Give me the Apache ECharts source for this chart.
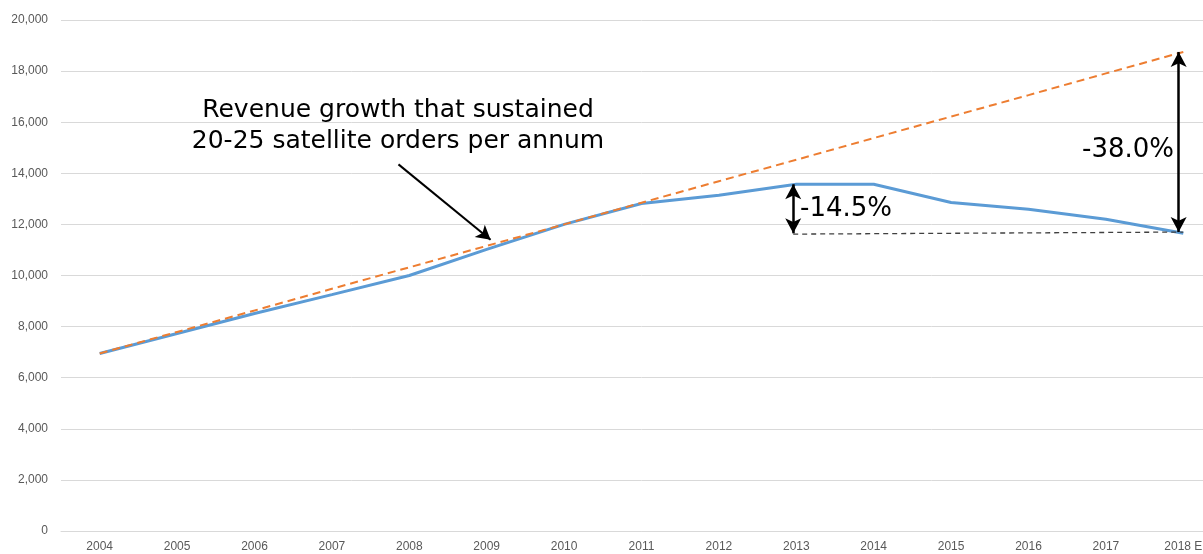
<!DOCTYPE html>
<html><head><meta charset="utf-8">
<script src="https://cdn.jsdelivr.net/npm/echarts@6/dist/echarts.min.js"></script>
<style>html,body{margin:0;padding:0;background:#fff;overflow:hidden;width:1203px;height:554px}#c{width:1222px;height:554px}</style>
</head><body><div id="c"></div>
<script>
const categories = ['2004','2005','2006','2007','2008','2009','2010','2011','2012','2013','2014','2015','2016','2017','2018 E'];
const actualRevenue = [6950,7730,8510,9250,10000,11020,12000,12820,13140,13570,13570,12860,12590,12200,11650];
const sustainedGrowth = [6950,7790,8630,9480,10320,11160,12000,12850,13690,14530,15380,16220,17060,17910,18750];
const yTicks = {min:0, max:20000, interval:2000};
// annotation positions in category-index units (0 = 2004)
const gapLine = [[8.96,11620],[14,11700]];
const arrow2013 = [[8.96,13570],[8.96,11650]];
const arrow2018 = [[13.94,18750],[13.94,11700]];
const pointerArrow = [[3.86,14350],[5.05,11400]];

const chart = echarts.init(document.getElementById('c'));
const arrowStyle = {color:'#000', width:2.5, type:'solid'};
chart.setOption({
  animation:false,
  grid:{left:61, right:0, top:20, bottom:23},
  xAxis:[{type:'category', data:categories, boundaryGap:true,
    axisLine:{show:true, lineStyle:{color:'#d9d9d9'}}, axisTick:{show:false},
    axisLabel:{color:'#595959', fontSize:12, fontFamily:'Liberation Sans', margin:10}},
    {type:'value', min:-0.5, max:categories.length-0.5, show:false, splitLine:{show:false}}],
  yAxis:{type:'value', min:yTicks.min, max:yTicks.max, interval:yTicks.interval,
    axisLine:{show:false}, axisTick:{show:false},
    splitLine:{lineStyle:{color:'#d9d9d9', width:1}},
    axisLabel:{color:'#595959', fontSize:12, fontFamily:'Liberation Sans', margin:13,
      formatter:v=>v.toLocaleString('en-US')}},
  series:[
    {type:'line', data:sustainedGrowth, symbol:'none', z:3,
     lineStyle:{color:'#ED7D31', width:2, type:[8,5]}},
    {type:'line', data:actualRevenue, symbol:'none', z:2,
     lineStyle:{color:'#5B9BD5', width:3}},
    {type:'line', xAxisIndex:1, data:[], symbol:'none',
     markLine:{silent:true, animation:false, symbol:['arrow','arrow'], symbolSize:[12,15],
       label:{show:false}, lineStyle:arrowStyle,
       data:[
         [{coord:gapLine[0], symbol:'none', lineStyle:{color:'#404040', width:1.3, type:[5,4]}},{coord:gapLine[1], symbol:'none'}],
         [{coord:arrow2013[0]},{coord:arrow2013[1]}],
         [{coord:arrow2018[0]},{coord:arrow2018[1]}],
         [{coord:pointerArrow[0], symbol:'none', lineStyle:{color:'#000', width:2, type:'solid'}},{coord:pointerArrow[1], symbol:'arrow', symbolSize:[12,14]}]
       ]}}
  ],
  graphic:[
    {type:'text', style:{text:'Revenue growth that sustained\n20-25 satellite orders per annum',
      x:398, y:126, fill:'#000', font:'25px "DejaVu Sans"', align:'center', verticalAlign:'middle', lineHeight:31}},
    {type:'text', style:{text:'-14.5%', x:800, y:209, fill:'#000', font:'26px "DejaVu Sans"', align:'left', verticalAlign:'middle'}},
    {type:'text', style:{text:'-38.0%', x:1082, y:150, fill:'#000', font:'26px "DejaVu Sans"', align:'left', verticalAlign:'middle'}}
  ]
});
</script></body></html>
